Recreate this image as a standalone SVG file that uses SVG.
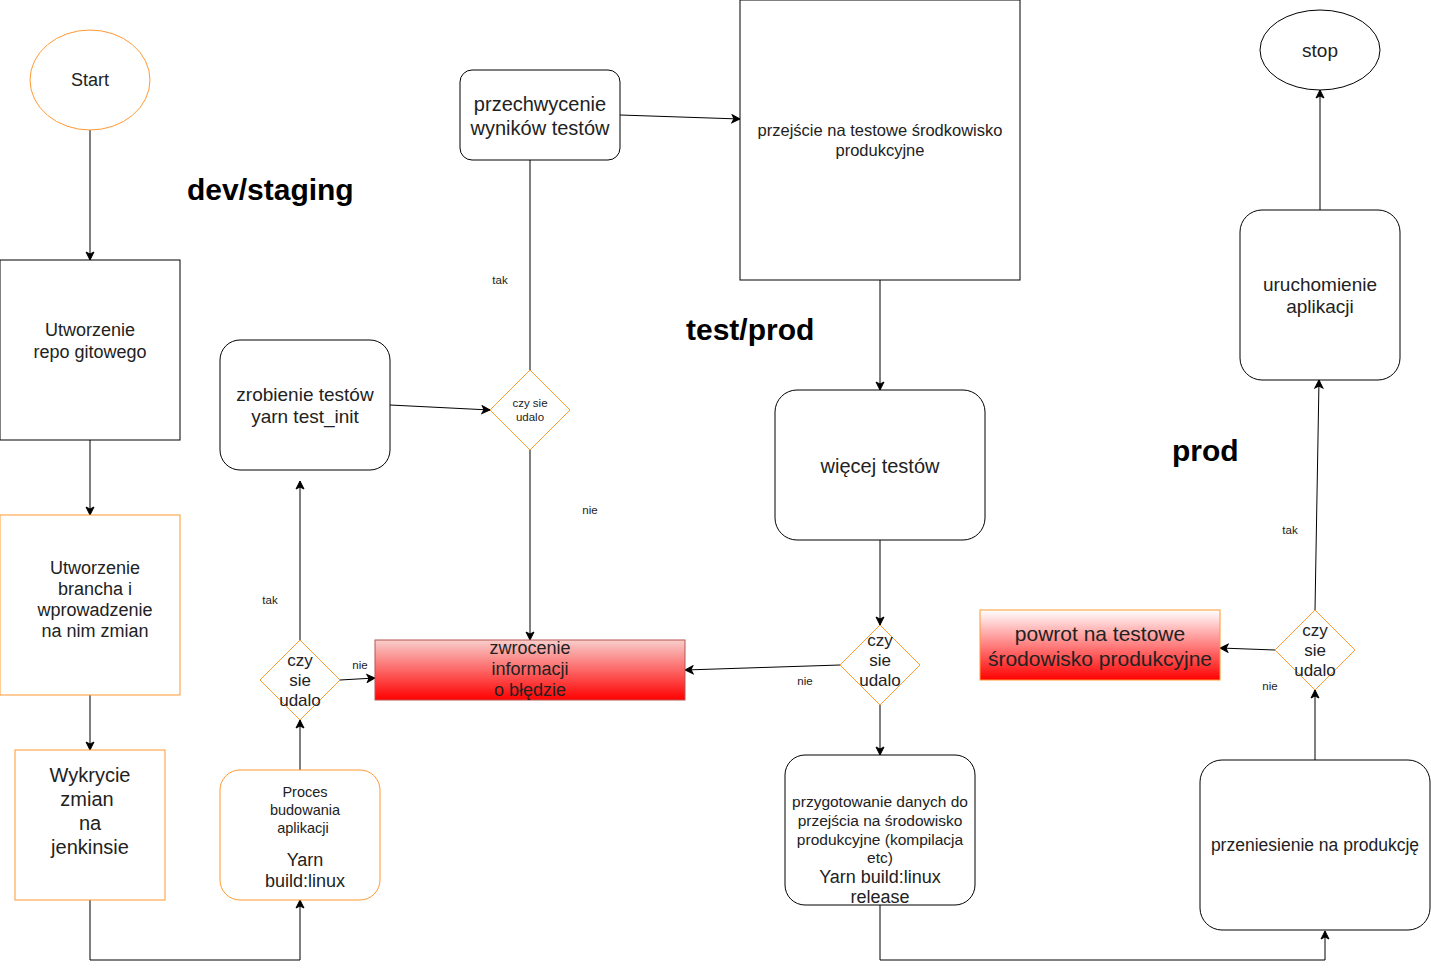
<svg xmlns="http://www.w3.org/2000/svg" width="1431" height="970" viewBox="0 0 1431 970">
<style>
text{font-family:"Liberation Sans",Arial,sans-serif;fill:#222;text-anchor:middle}
.n{fill:#fff;stroke:#000;stroke-width:1}
.o{fill:#fff;stroke:#ff9933;stroke-width:1}
.c{fill:none;stroke:#000;stroke-width:1}
.lbl{font-size:11.5px}
.h{font-weight:bold;fill:#000;font-size:30px;text-anchor:start}
</style>
<defs>
<marker id="a" markerWidth="10" markerHeight="10" viewBox="0 0 10 10" refX="9" refY="5" orient="auto" markerUnits="userSpaceOnUse">
<path d="M1,1 L9,5 L1,9 L3,5 Z" fill="#000" stroke="#000" stroke-width="1"/>
</marker>
<linearGradient id="rg" x1="0" y1="0" x2="0" y2="1">
<stop offset="0" stop-color="#f8cecc"/>
<stop offset="1" stop-color="#ff0000"/>
</linearGradient>
<linearGradient id="rg2" x1="0" y1="0" x2="0" y2="1">
<stop offset="0" stop-color="#ffffff"/>
<stop offset="1" stop-color="#ff0000"/>
</linearGradient>
</defs>
<rect width="1431" height="970" fill="#fff"/>

<g id="connectors">
<line class="c" x1="90" y1="130" x2="90" y2="260" marker-end="url(#a)"/>
<line class="c" x1="90" y1="440" x2="90" y2="515" marker-end="url(#a)"/>
<line class="c" x1="90" y1="695" x2="90" y2="750" marker-end="url(#a)"/>
<polyline class="c" points="90,900 90,960 300,960 300,900" marker-end="url(#a)"/>
<line class="c" x1="300" y1="770" x2="300" y2="720" marker-end="url(#a)"/>
<line class="c" x1="300" y1="640" x2="300" y2="481" marker-end="url(#a)"/>
<line class="c" x1="340" y1="680" x2="375" y2="678" marker-end="url(#a)"/>
<line class="c" x1="390" y1="405" x2="490" y2="410" marker-end="url(#a)"/>
<line class="c" x1="530" y1="370" x2="530" y2="160"/>
<line class="c" x1="530" y1="450" x2="530" y2="640" marker-end="url(#a)"/>
<line class="c" x1="620" y1="115" x2="740" y2="119" marker-end="url(#a)"/>
<line class="c" x1="880" y1="280" x2="880" y2="390" marker-end="url(#a)"/>
<line class="c" x1="880" y1="540" x2="880" y2="625" marker-end="url(#a)"/>
<line class="c" x1="840" y1="665" x2="685" y2="670" marker-end="url(#a)"/>
<line class="c" x1="880" y1="705" x2="880" y2="755" marker-end="url(#a)"/>
<polyline class="c" points="880,905 880,960 1325,960 1325,931" marker-end="url(#a)"/>
<line class="c" x1="1315" y1="760" x2="1315" y2="690" marker-end="url(#a)"/>
<line class="c" x1="1275" y1="650" x2="1220" y2="648" marker-end="url(#a)"/>
<line class="c" x1="1315" y1="610" x2="1319" y2="380" marker-end="url(#a)"/>
<line class="c" x1="1320" y1="210" x2="1320" y2="90" marker-end="url(#a)"/>
<text class="lbl" x="270" y="604">tak</text>
<text class="lbl" x="360" y="669">nie</text>
<text class="lbl" x="500" y="284">tak</text>
<text class="lbl" x="590" y="514">nie</text>
<text class="lbl" x="805" y="685">nie</text>
<text class="lbl" x="1270" y="690">nie</text>
<text class="lbl" x="1290" y="534">tak</text>
</g>

<text class="h" x="187" y="200">dev/staging</text>
<text class="h" x="686" y="340">test/prod</text>
<text class="h" x="1172" y="461">prod</text>

<g id="start">
<ellipse class="o" cx="90" cy="80" rx="60" ry="50"/>
<text x="90" y="86" font-size="18">Start</text>
</g>

<g id="repo">
<rect class="n" x="0" y="260" width="180" height="180"/>
<text font-size="18"><tspan x="90" y="336">Utworzenie</tspan><tspan x="90" y="358">repo gitowego</tspan></text>
</g>

<g id="branch">
<rect class="o" x="0" y="515" width="180" height="180"/>
<text font-size="18"><tspan x="95" y="574">Utworzenie</tspan><tspan x="95" y="595">brancha i</tspan><tspan x="95" y="616">wprowadzenie</tspan><tspan x="95" y="637">na nim zmian</tspan></text>
</g>

<g id="jenkins">
<rect class="o" x="15" y="750" width="150" height="150"/>
<text font-size="20"><tspan x="90" y="782">Wykrycie</tspan><tspan x="87" y="806">zmian</tspan><tspan x="90" y="830">na</tspan><tspan x="90" y="854">jenkinsie</tspan></text>
</g>

<g id="build">
<rect class="o" x="220" y="770" width="160" height="130" rx="20"/>
<text font-size="14.5"><tspan x="305" y="797">Proces</tspan><tspan x="305" y="815">budowania</tspan><tspan x="303" y="833">aplikacji</tspan></text>
<text font-size="18"><tspan x="305" y="866">Yarn</tspan><tspan x="305" y="887">build:linux</tspan></text>
</g>

<g id="decision1">
<polygon class="o" points="300,640 340,680 300,720 260,680"/>
<text font-size="17"><tspan x="300" y="666">czy</tspan><tspan x="300" y="686">sie</tspan><tspan x="300" y="706">udalo</tspan></text>
</g>

<g id="tests">
<rect class="n" x="220" y="340" width="170" height="130" rx="20"/>
<text font-size="19"><tspan x="305" y="401">zrobienie testów</tspan><tspan x="305" y="423">yarn test_init</tspan></text>
</g>

<g id="decision2">
<polygon class="o" points="530,370 570,410 530,450 490,410"/>
<text font-size="11.5"><tspan x="530" y="407">czy sie</tspan><tspan x="530" y="421">udalo</tspan></text>
</g>

<g id="error">
<rect x="375" y="640" width="310" height="60" fill="url(#rg)" stroke="#b85450"/>
<text font-size="18"><tspan x="530" y="654">zwrocenie</tspan><tspan x="530" y="675">informacji</tspan><tspan x="530" y="696">o błędzie</tspan></text>
</g>

<g id="capture">
<rect class="n" x="460" y="70" width="160" height="90" rx="12"/>
<text font-size="20"><tspan x="540" y="111">przechwycenie</tspan><tspan x="540" y="135">wyników testów</tspan></text>
</g>

<g id="testenv">
<rect class="n" x="740" y="0" width="280" height="280"/>
<text font-size="16.5"><tspan x="880" y="136">przejście na testowe środkowisko</tspan><tspan x="880" y="156">produkcyjne</tspan></text>
</g>

<g id="moretests">
<rect class="n" x="775" y="390" width="210" height="150" rx="22"/>
<text x="880" y="473" font-size="20">więcej testów</text>
</g>

<g id="decision3">
<polygon class="o" points="880,625 920,665 880,705 840,665"/>
<text font-size="17"><tspan x="880" y="646">czy</tspan><tspan x="880" y="666">sie</tspan><tspan x="880" y="686">udalo</tspan></text>
</g>

<g id="prepare">
<rect class="n" x="785" y="755" width="190" height="150" rx="20"/>
<text font-size="15.5"><tspan x="880" y="807">przygotowanie danych do</tspan><tspan x="880" y="826">przejścia na środowisko</tspan><tspan x="880" y="845">produkcyjne (kompilacja</tspan><tspan x="880" y="863">etc)</tspan></text>
<text font-size="18"><tspan x="880" y="883">Yarn build:linux</tspan><tspan x="880" y="903">release</tspan></text>
</g>

<g id="deploy">
<rect class="n" x="1200" y="760" width="230" height="170" rx="22"/>
<text x="1315" y="851" font-size="17.5">przeniesienie na produkcję</text>
</g>

<g id="decision4">
<polygon class="o" points="1315,610 1355,650 1315,690 1275,650"/>
<text font-size="17"><tspan x="1315" y="636">czy</tspan><tspan x="1315" y="656">sie</tspan><tspan x="1315" y="676">udalo</tspan></text>
</g>

<g id="rollback">
<rect x="980" y="610" width="240" height="70" fill="url(#rg2)" stroke="#ff9933"/>
<text font-size="21"><tspan x="1100" y="641">powrot na testowe</tspan><tspan x="1100" y="666">środowisko produkcyjne</tspan></text>
</g>

<g id="run">
<rect class="n" x="1240" y="210" width="160" height="170" rx="22"/>
<text font-size="19"><tspan x="1320" y="291">uruchomienie</tspan><tspan x="1320" y="313">aplikacji</tspan></text>
</g>

<g id="stop">
<ellipse class="n" cx="1320" cy="50" rx="60" ry="40"/>
<text x="1320" y="57" font-size="19">stop</text>
</g>
</svg>
